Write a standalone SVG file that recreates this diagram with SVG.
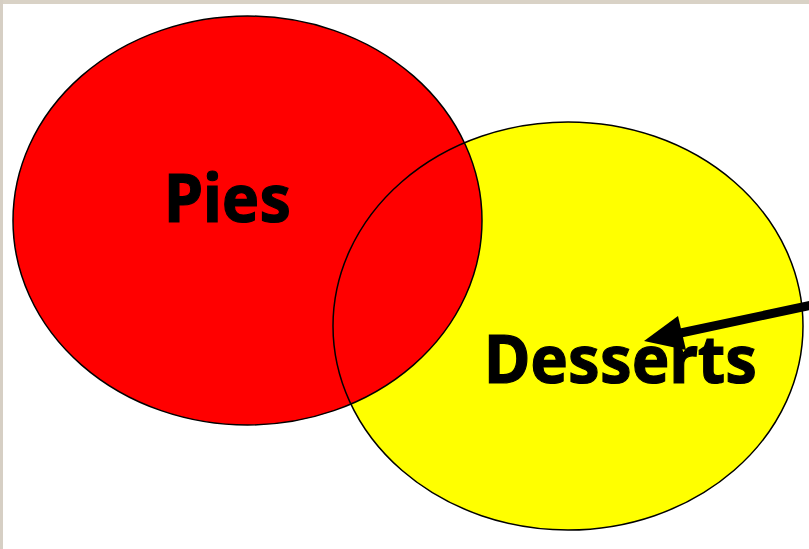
<svg xmlns="http://www.w3.org/2000/svg" width="809" height="549" viewBox="0 0 809 549">
  <defs>
    <style>
      .outline { fill: none; stroke: #000; stroke-width: 1.5; }
      .label { font-family: "Noto Sans", "DejaVu Sans", sans-serif; font-weight: bold; font-size: 66px; fill: #000; stroke: #000; stroke-width: 1.2; }
    </style>
  </defs>
  <rect x="0" y="0" width="809" height="549" fill="#ffffff"/>
  <rect x="0" y="0" width="809" height="4" fill="#d9d2c6"/>
  <rect x="0" y="0" width="3" height="549" fill="#d6cfc4"/>

  <g id="desserts">
    <ellipse cx="568" cy="326" rx="235" ry="204" fill="#ffff00"/>
  </g>
  <g id="pies">
    <ellipse cx="247.5" cy="220.5" rx="234.5" ry="204.5" fill="#ff0000"/>
  </g>
  <g id="outlines">
    <ellipse class="outline" cx="568" cy="326" rx="235" ry="204"/>
    <ellipse class="outline" cx="247.5" cy="220.5" rx="234.5" ry="204.5"/>
  </g>
  <g id="pies-label">
    <text class="label" x="164" y="222" textLength="127" lengthAdjust="spacingAndGlyphs">Pies</text>
  </g>
  <g id="desserts-label">
    <text class="label" x="484" y="383" textLength="273" lengthAdjust="spacingAndGlyphs">Desserts</text>
  </g>
  <g id="connectors">
    <line x1="812" y1="305" x2="676" y2="334" stroke="#000" stroke-width="9"/>
    <polygon points="644,341 678,316 686,350" fill="#000"/>
  </g>
</svg>
